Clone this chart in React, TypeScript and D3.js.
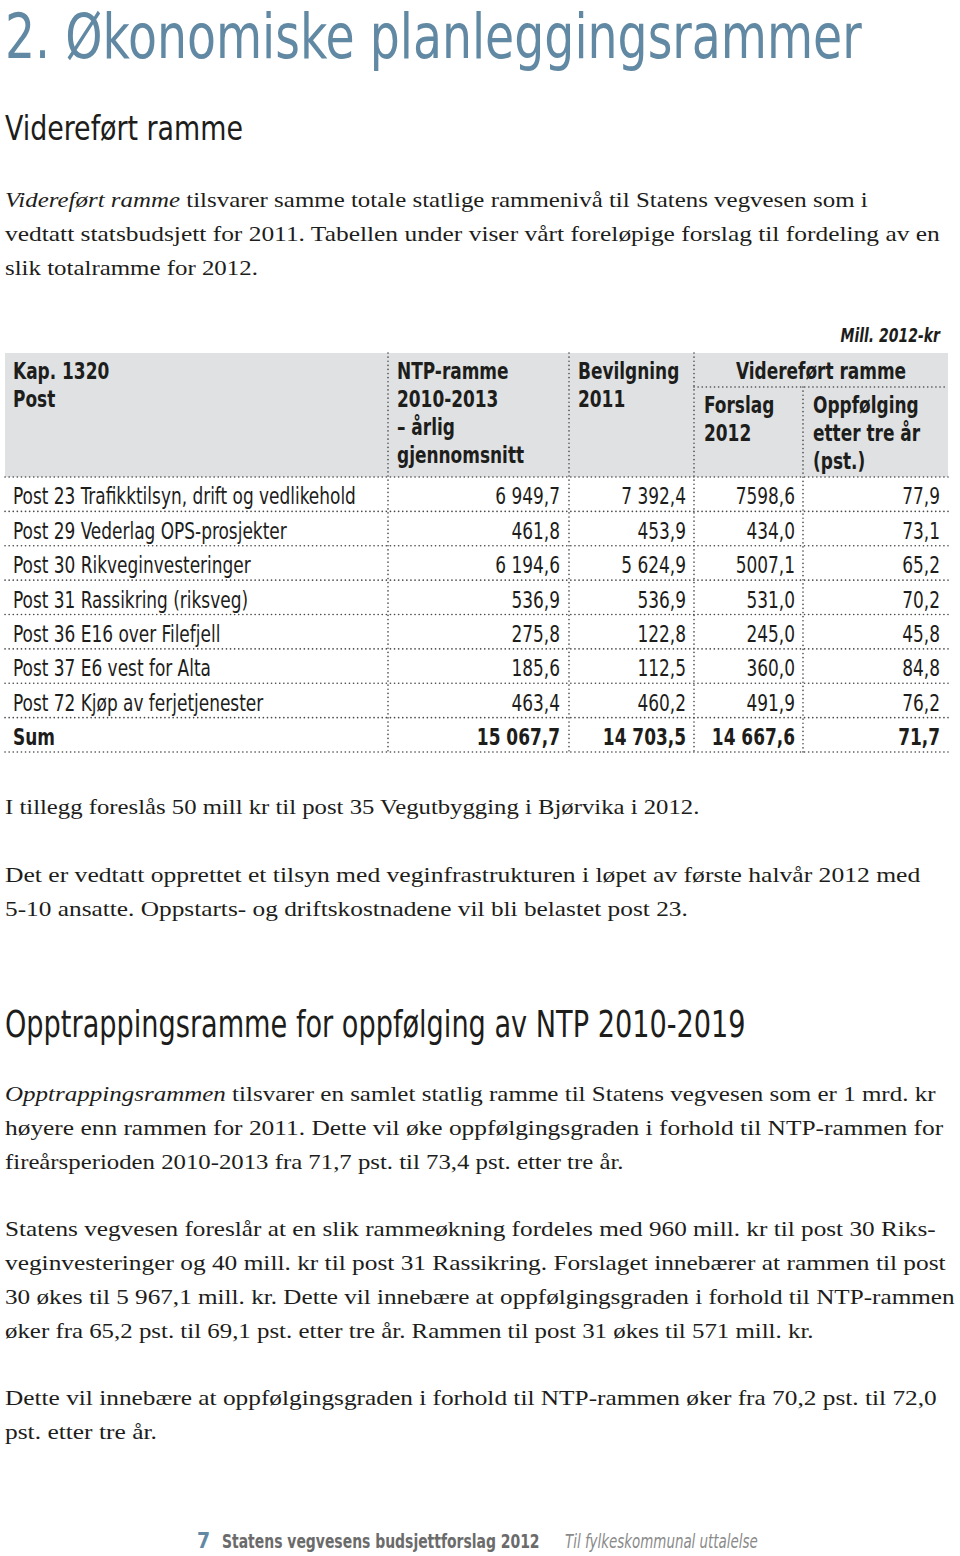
import React, { useLayoutEffect, useRef } from "react";
import * as d3 from "d3";

// ---------- Data ----------
const rowLabels = [
  "Post 23 Trafikktilsyn, drift og vedlikehold",
  "Post 29 Vederlag OPS-prosjekter",
  "Post 30 Rikveginvesteringer",
  "Post 31 Rassikring (riksveg)",
  "Post 36 E16 over Filefjell",
  "Post 37 E6 vest for Alta",
  "Post 72 Kjøp av ferjetjenester",
];
const ntpRamme = [6949.7, 461.8, 6194.6, 536.9, 275.8, 185.6, 463.4];
const bevilgning2011 = [7392.4, 453.9, 5624.9, 536.9, 122.8, 112.5, 460.2];
const forslag2012 = [7598.6, 434.0, 5007.1, 531.0, 245.0, 360.0, 491.9];
const oppfolging = [77.9, 73.1, 65.2, 70.2, 45.8, 84.8, 76.2];
const sumLabel = "Sum";
const sums = [15067.7, 14703.5, 14667.6, 71.7];

const title = "2. Økonomiske planleggingsrammer";
const heading1 = "Videreført ramme";
const heading2 = "Opptrappingsramme for oppfølging av NTP 2010-2019";
const unitNote = "Mill. 2012-kr";

const headerCol0 = ["Kap. 1320", "Post"];
const headerCol1 = ["NTP-ramme", "2010-2013", "– årlig", "gjennomsnitt"];
const headerCol2 = ["Bevilgning", "2011"];
const headerGroup = "Videreført ramme";
const headerCol3 = ["Forslag", "2012"];
const headerCol4 = ["Oppfølging", "etter tre år", "(pst.)"];

// paragraph lines: [italic lead, rest, end x, baseline]
const paraLines: [string, string, number, number][] = [
  ["Videreført ramme", " tilsvarer samme totale statlige rammenivå til Statens vegvesen som i", 868, 207],
  ["", "vedtatt statsbudsjett for 2011. Tabellen under viser vårt foreløpige forslag til fordeling av en", 940, 241],
  ["", "slik totalramme for 2012.", 258, 275],
  ["", "I tillegg foreslås 50 mill kr til post 35 Vegutbygging i Bjørvika i 2012.", 700, 814],
  ["", "Det er vedtatt opprettet et tilsyn med veginfrastrukturen i løpet av første halvår 2012 med", 921, 882],
  ["", "5-10 ansatte. Oppstarts- og driftskostnadene vil bli belastet post 23.", 688, 916],
  ["Opptrappingsrammen", " tilsvarer en samlet statlig ramme til Statens vegvesen som er 1 mrd. kr", 936, 1101],
  ["", "høyere enn rammen for 2011. Dette vil øke oppfølgingsgraden i forhold til NTP-rammen for", 944, 1135],
  ["", "fireårsperioden 2010-2013 fra 71,7 pst. til 73,4 pst. etter tre år.", 624, 1169],
  ["", "Statens vegvesen foreslår at en slik rammeøkning fordeles med 960 mill. kr til post 30 Riks-", 936, 1236],
  ["", "veginvesteringer og 40 mill. kr til post 31 Rassikring. Forslaget innebærer at rammen til post", 946, 1270],
  ["", "30 økes til 5 967,1 mill. kr. Dette vil innebære at oppfølgingsgraden i forhold til NTP-rammen", 955, 1304],
  ["", "øker fra 65,2 pst. til 69,1 pst. etter tre år. Rammen til post 31 økes til 571 mill. kr.", 814, 1338],
  ["", "Dette vil innebære at oppfølgingsgraden i forhold til NTP-rammen øker fra 70,2 pst. til 72,0", 937, 1405],
  ["", "pst. etter tre år.", 157, 1439],
];

const footerNum = "7";
const footerTitle = "Statens vegvesens budsjettforslag 2012";
const footerSub = "Til fylkeskommunal uttalelse";

// ---------- Styles ----------
const W = 960;
const H = 1556;
const COND = "'DejaVu Sans Condensed', 'DejaVu Sans', sans-serif";
const SERIF = "'Liberation Serif', 'DejaVu Serif', serif";
const BLUE = "#6189a3";
const INK = "#1d1d1b";
const GRAYBG = "#dfe1e3";
const DOT = "#4a4a4a";
const SQ = 0.82; // horizontal squeeze for table text

function fmt(v: number, group: boolean) {
  const s = v.toFixed(1).replace(".", ",");
  if (!group) return s;
  const [i, d] = s.split(",");
  return i.replace(/\B(?=(\d{3})+(?!\d))/g, " ") + "," + d;
}

// Text horizontally scaled about its anchor x, either by a fixed factor or to fit a width.
function SText(props: any) {
  const { x, y, fit, sx, children, ...rest } = props;
  const ref = useRef<SVGTextElement>(null);
  useLayoutEffect(() => {
    const el = ref.current;
    if (!el) return;
    let s = sx ?? 1;
    if (fit) {
      const natural = el.getComputedTextLength();
      if (natural > 0) s = fit / natural;
    }
    el.setAttribute("transform", `translate(${x},0) scale(${s},1) translate(${-x},0)`);
  }, [x, fit, sx]);
  const init = sx ? `translate(${x},0) scale(${sx},1) translate(${-x},0)` : undefined;
  return (
    <text ref={ref} x={x} y={y} transform={init} {...rest}>
      {children}
    </text>
  );
}

export default function App() {
  const tableLeft = 5;
  const tableRight = 948;
  const headTop = 353;
  const headBottom = 477;
  const bodyBottom = 752;
  const colX = [tableLeft, 388, 569, 694, 803, tableRight];
  const groupLineY = 387;

  const nRows = rowLabels.length + 1;
  const y = d3.scaleBand<number>().domain(d3.range(nRows)).range([headBottom, bodyBottom]);

  const valueCols = [ntpRamme, bevilgning2011, forslag2012, oppfolging];
  const groupFlags = [true, true, false, false];
  const rightEdges = [560, 686, 795, 940];

  const dotted = { stroke: DOT, strokeWidth: 1.6, strokeDasharray: "0.1 4", strokeLinecap: "round" as const };

  const fs = 23;
  const hLine = 28;

  return (
    <svg
      width={W}
      height={H}
      viewBox={`0 0 ${W} ${H}`}
      style={{ position: "absolute", left: 0, top: 0, display: "block", background: "#fff" }}
    >
      {/* Title + heading */}
      <SText x={5} y={58} fit={857} fill={BLUE} fontFamily={COND} fontSize={62}>
        {title}
      </SText>
      <SText x={5} y={140} fit={238} fill={INK} fontFamily={COND} fontSize={34}>
        {heading1}
      </SText>

      {/* Paragraphs */}
      {paraLines.map(([lead, rest, endX, by], i) => (
        <SText key={i} x={5} y={by} fit={endX - 5} fill={INK} fontFamily={SERIF} fontSize={21.5}>
          {lead && <tspan fontStyle="italic">{lead}</tspan>}
          {rest}
        </SText>
      ))}

      {/* Unit note */}
      <SText x={940} y={342} sx={SQ} textAnchor="end" fill={INK} fontFamily={COND} fontSize={19} fontWeight="bold" fontStyle="italic">
        {unitNote}
      </SText>

      {/* Header background */}
      <rect x={tableLeft} y={headTop} width={tableRight - tableLeft} height={headBottom - headTop} fill={GRAYBG} />

      {/* Header text */}
      <g fontFamily={COND} fontSize={fs} fontWeight="bold" fill={INK}>
        {headerCol0.map((t, i) => (
          <SText key={"h0" + i} x={13} y={379 + i * hLine} sx={SQ}>{t}</SText>
        ))}
        {headerCol1.map((t, i) => (
          <SText key={"h1" + i} x={397} y={379 + i * hLine} sx={SQ}>{t}</SText>
        ))}
        {headerCol2.map((t, i) => (
          <SText key={"h2" + i} x={578} y={379 + i * hLine} sx={SQ}>{t}</SText>
        ))}
        <SText x={(colX[3] + tableRight) / 2} y={379} sx={SQ} textAnchor="middle">{headerGroup}</SText>
        {headerCol3.map((t, i) => (
          <SText key={"h3" + i} x={704} y={413 + i * hLine} sx={SQ}>{t}</SText>
        ))}
        {headerCol4.map((t, i) => (
          <SText key={"h4" + i} x={813} y={413 + i * hLine} sx={SQ}>{t}</SText>
        ))}
      </g>

      {/* Header separators */}
      <line x1={colX[3]} x2={tableRight} y1={groupLineY} y2={groupLineY} {...dotted} />
      <line x1={tableLeft} x2={tableRight} y1={headBottom} y2={headBottom} {...dotted} />

      {/* Body rows */}
      {d3.range(nRows).map((r) => {
        const isSum = r === nRows - 1;
        const top = y(r)!;
        const base = top + y.bandwidth() * 0.8;
        return (
          <g key={"r" + r} fontFamily={COND} fontSize={fs} fill={INK} fontWeight={isSum ? "bold" : "normal"}>
            <SText x={13} y={base} sx={SQ}>{isSum ? sumLabel : rowLabels[r]}</SText>
            {valueCols.map((col, c) => (
              <SText key={c} x={rightEdges[c]} y={base} sx={SQ} textAnchor="end">
                {isSum ? fmt(sums[c], c < 3) : fmt(col[r], groupFlags[c])}
              </SText>
            ))}
            <line x1={tableLeft} x2={tableRight} y1={top + y.bandwidth()} y2={top + y.bandwidth()} {...dotted} />
          </g>
        );
      })}

      {/* Vertical dividers */}
      <line x1={colX[1]} x2={colX[1]} y1={headTop} y2={bodyBottom} {...dotted} />
      <line x1={colX[2]} x2={colX[2]} y1={headTop} y2={bodyBottom} {...dotted} />
      <line x1={colX[3]} x2={colX[3]} y1={headTop} y2={bodyBottom} {...dotted} />
      <line x1={colX[4]} x2={colX[4]} y1={groupLineY} y2={bodyBottom} {...dotted} />

      {/* Heading 2 */}
      <SText x={5} y={1037} fit={741} fill={INK} fontFamily={COND} fontSize={37}>
        {heading2}
      </SText>

      {/* Footer */}
      <text x={197} y={1548} fill={BLUE} fontFamily={COND} fontSize={21} fontWeight="bold">{footerNum}</text>
      <SText x={222} y={1548} fit={318} fill="#6b6b6b" fontFamily={COND} fontSize={20} fontWeight="bold">
        {footerTitle}
      </SText>
      <SText x={565} y={1548} fit={193} fill="#8a8a8a" fontFamily={COND} fontSize={20} fontStyle="italic">
        {footerSub}
      </SText>
    </svg>
  );
}
